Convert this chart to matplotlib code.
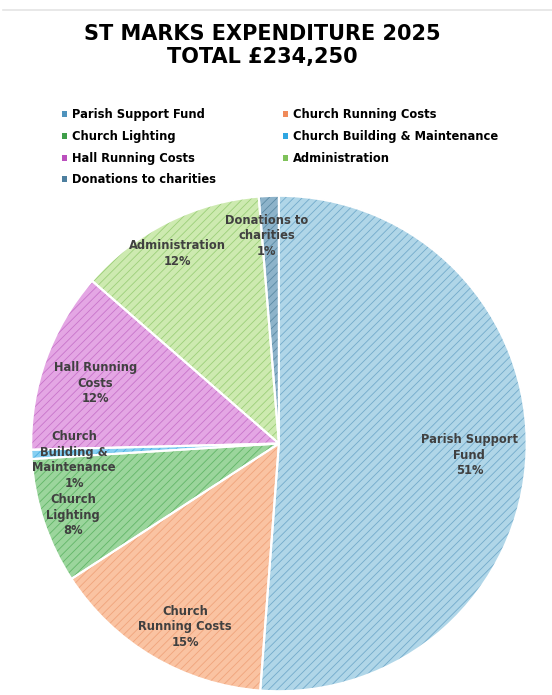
import numpy as np
import matplotlib.pyplot as plt
from matplotlib.patches import Patch
from matplotlib.lines import Line2D

plt.rcParams['font.family'] = ['DejaVu Sans']
plt.rcParams['hatch.linewidth'] = 0.6

# ---- data (percent shares) ----
categories = ["Parish Support Fund", "Church Running Costs", "Church Lighting",
              "Church Building & Maintenance", "Hall Running Costs",
              "Administration", "Donations to charities"]
shares = [51.2, 14.6, 8.2, 0.6, 11.8, 12.3, 1.3]
slice_labels = ["Parish Support\nFund", "Church\nRunning Costs", "Church\nLighting",
                "Church\nBuilding &\nMaintenance", "Hall Running\nCosts",
                "Administration", "Donations to\ncharities"]
pct_labels = ["51%", "15%", "8%", "1%", "12%", "12%", "1%"]
title = "ST MARKS EXPENDITURE 2025\nTOTAL £234,250"

# ---- style ----
face = ["#b0d6e8", "#fac3a2", "#9bd59c", "#86cff2", "#e4a6e4", "#cdeab0", "#8db3ca"]
hatchc = ["#72aacb", "#f0a47c", "#62b668", "#4aafe2", "#c874ca", "#9ccf79", "#5a8aa4"]
legend_c = ["#4f93bd", "#f08a5a", "#3f9f4a", "#2fa6e2", "#bb4fbd", "#7fc25a", "#4d7f9f"]
label_r = [0.77, 0.83, 0.88, 0.83, 0.78, 0.87, 0.84]
label_shift = [-1.3, 3.5, 0.9, 2.1, 1.6, 1.2, 1.1]   # degrees

fig = plt.figure(figsize=(5.52, 6.95), dpi=100)
fig.add_artist(Line2D([0.005, 1.0], [0.986, 0.986], color="#e4e4e4", lw=1.2))
fig.text(0.476, 0.9345, title, ha='center', va='center', fontsize=15,
         fontweight='bold', linespacing=1.2)

ax = fig.add_axes([0.0543, 0.0036, 0.902, 0.7165])
wedges, _ = ax.pie(shares, startangle=90, counterclock=False, radius=1.0)
for w, fc, hc in zip(wedges, face, hatchc):
    w.set_facecolor(fc)
    w.set_edgecolor(hc)
    w.set_hatch('////')
    w.set_linewidth(0)
# white separators on top
sep, _ = ax.pie(shares, startangle=90, counterclock=False, radius=1.0,
                wedgeprops=dict(fill=False, edgecolor='white', linewidth=1.5))
for s in sep:
    s.set_zorder(3)

for w, lab, pct, r, d in zip(wedges, slice_labels, pct_labels, label_r, label_shift):
    mid = np.deg2rad((w.theta1 + w.theta2) / 2 + d)
    ax.text(r * np.cos(mid), r * np.sin(mid), f"{lab}\n{pct}",
            ha='center', va='center', fontsize=8.3, fontweight='bold',
            color="#404040", linespacing=1.25, zorder=5)
ax.set_xlim(-1.005, 1.005)
ax.set_ylim(-1.005, 1.005)
ax.set_aspect('equal')

# legend filled row by row like the original
order = [0, 2, 4, 6, 1, 3, 5]
handles = [Patch(facecolor=legend_c[i], edgecolor='none') for i in order]
fig.legend(handles, [categories[i] for i in order], ncol=2,
           loc='upper left', bbox_to_anchor=(0.112, 0.844), frameon=False,
           prop=dict(size=8.3, weight='bold'), handlelength=0.45, handleheight=0.45,
           handletextpad=0.45, columnspacing=5.8, labelspacing=0.75,
           borderaxespad=0, borderpad=0)

fig.savefig("out.png", dpi=100)
